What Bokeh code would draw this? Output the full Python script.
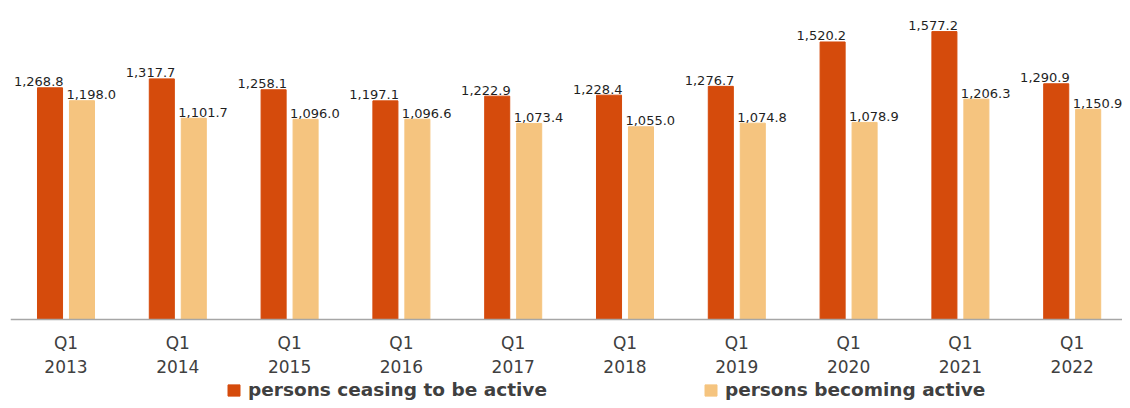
import numpy as np
from bokeh.plotting import figure
from bokeh.models import Range1d, FixedTicker, Legend, LegendItem, ColumnDataSource
from bokeh.core.properties import value
from bokeh.embed import file_html
from bokeh.resources import INLINE

categories = ["Q1\n2013", "Q1\n2014", "Q1\n2015", "Q1\n2016", "Q1\n2017",
              "Q1\n2018", "Q1\n2019", "Q1\n2020", "Q1\n2021", "Q1\n2022"]
ceasing = [1268.8, 1317.7, 1258.1, 1197.1, 1222.9, 1228.4, 1276.7, 1520.2, 1577.2, 1290.9]
becoming = [1198.0, 1101.7, 1096.0, 1096.6, 1073.4, 1055.0, 1074.8, 1078.9, 1206.3, 1150.9]
series_names = ["persons ceasing to be active", "persons becoming active"]

DARK = "#D54B0C"
LIGHT = "#F5C47F"

x = np.arange(len(categories), dtype=float)
off = 0.143
bw = 0.224

src = ColumnDataSource(dict(
    xd=x - off, xl=x + off,
    xd_lab=x - off + bw / 2, xl_lab=x + off - bw / 2,
    ceasing=ceasing, becoming=becoming,
    lab_c=[f"{v:,.1f}" for v in ceasing],
    lab_b=[f"{v:,.1f}" for v in becoming],
))

p = figure(width=1122, height=400, output_backend="svg", toolbar_location=None,
           x_range=Range1d(-0.4964, 9.4499), y_range=Range1d(-446.5, 1747.7),
           min_border_left=10, min_border_right=0, min_border_top=0, min_border_bottom=0)
p.outline_line_color = None
p.background_fill_color = "white"
p.xgrid.visible = False
p.ygrid.visible = False
p.yaxis.visible = False

r1 = p.vbar(x="xd", top="ceasing", width=bw, bottom=0, source=src,
            fill_color=DARK, line_color=DARK)
r2 = p.vbar(x="xl", top="becoming", width=bw, bottom=0, source=src,
            fill_color=LIGHT, line_color=LIGHT)

p.text(x="xd_lab", y="ceasing", text="lab_c", source=src, text_align="right",
       text_baseline="alphabetic", y_offset=-6, x_offset=1,
       text_font_size="13px", text_color="#1f1f1f", text_font=value("DejaVu Sans"))
p.text(x="xl_lab", y="becoming", text="lab_b", source=src, text_align="left",
       text_baseline="alphabetic", y_offset=-6, x_offset=-3,
       text_font_size="13px", text_color="#1f1f1f", text_font=value("DejaVu Sans"))

ax = p.xaxis[0]
ax.fixed_location = 0
ax.ticker = FixedTicker(ticks=list(x))
ax.major_label_overrides = {int(i): c for i, c in zip(x, categories)}
ax.major_tick_line_color = None
ax.minor_tick_line_color = None
ax.major_tick_out = 0
ax.major_tick_in = 0
ax.axis_line_color = "#A6A6A6"
ax.axis_line_width = 1.5
ax.major_label_standoff = 14
ax.major_label_text_font = "DejaVu Sans"
ax.major_label_text_font_size = "17px"
ax.major_label_text_color = "#404040"

legend = Legend(items=[LegendItem(label=series_names[0], renderers=[r1]),
                       LegendItem(label=series_names[1], renderers=[r2])],
                orientation="horizontal", location=(216, 0),
                padding=0, margin=0, spacing=156, label_standoff=7,
                glyph_width=15, glyph_height=14,
                label_text_font="DejaVu Sans", label_text_font_style="bold",
                label_text_font_size="18.5px", label_text_color="#404040",
                border_line_color=None, background_fill_alpha=0)
p.add_layout(legend)

open("out.html", "w").write(file_html(p, INLINE))
